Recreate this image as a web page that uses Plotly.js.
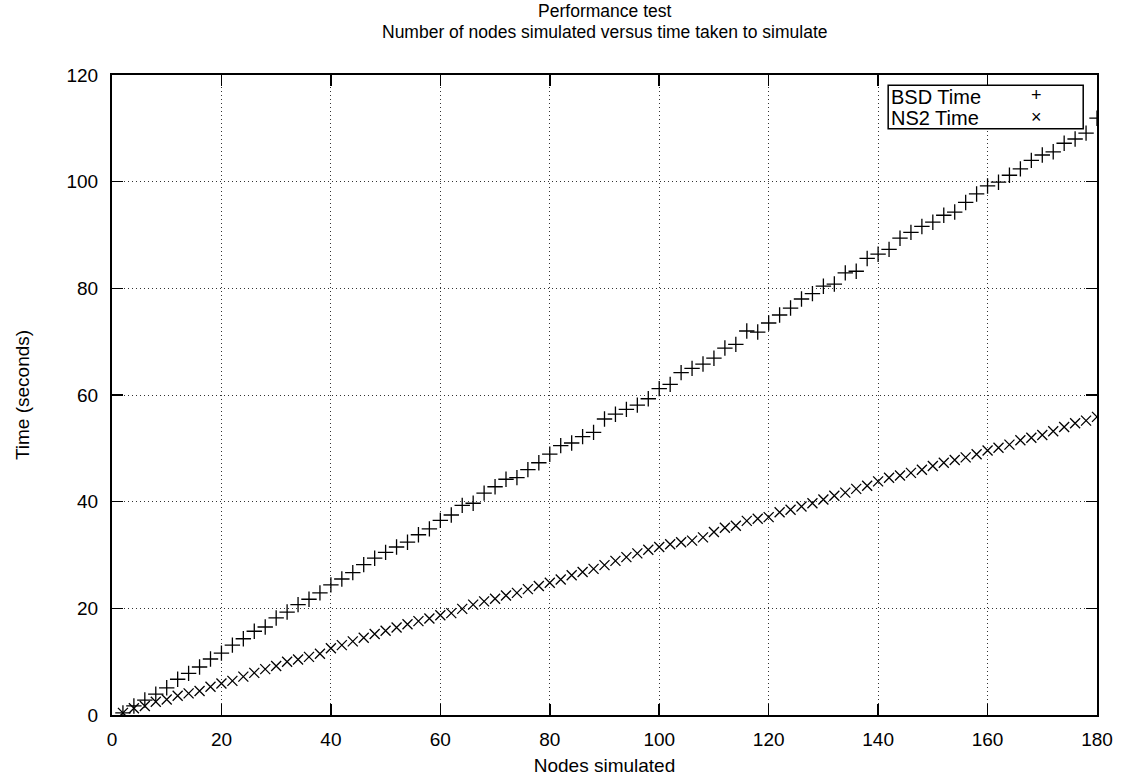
<!DOCTYPE html>
<html>
<head>
<meta charset="utf-8">
<script src="https://cdn.plot.ly/plotly-3.0.1.min.js"></script>
<style>html,body{margin:0;padding:0;background:#fff;}#chart{width:1123px;height:780px;}</style>
</head>
<body>
<div id="chart"></div>
<script>
const nodes = [2,4,6,8,10,12,14,16,18,20,22,24,26,28,30,32,34,36,38,40,42,44,46,48,50,52,54,56,58,60,62,64,66,68,70,72,74,76,78,80,82,84,86,88,90,92,94,96,98,100,102,104,106,108,110,112,114,116,118,120,122,124,126,128,130,132,134,136,138,140,142,144,146,148,150,152,154,156,158,160,162,164,166,168,170,172,174,176,178,180];
const bsdTime = [0.4,1.7,2.8,3.9,5.1,6.7,7.8,9.0,10.5,11.6,13.1,14.3,15.7,16.5,18.2,19.3,20.7,21.7,22.9,24.4,25.5,26.7,28.2,29.4,30.5,31.5,32.4,33.8,34.9,36.5,37.5,39.3,39.7,41.6,42.8,44.2,44.5,46.0,47.3,48.9,50.5,51.0,52.2,53.0,55.5,56.4,57.3,58.1,59.3,61.2,62.0,64.2,65.0,65.8,66.9,68.8,69.5,72.0,71.8,73.5,75.0,76.3,78.0,79.0,80.4,80.8,82.9,83.2,85.6,86.4,87.3,89.4,90.5,91.6,92.4,93.7,94.3,96.1,97.7,99.2,99.9,101.2,102.4,104.0,105.0,105.6,107.2,108.0,109.1,111.9];
const ns2Time = [0.4,1.25,1.7,2.5,2.9,3.6,4.05,4.5,5.3,5.9,6.4,7.2,7.9,8.6,9.2,10.0,10.4,10.9,11.5,12.5,13.1,13.8,14.5,15.2,15.8,16.4,17.0,17.6,18.1,18.7,19.1,19.9,20.7,21.3,21.8,22.4,22.9,23.6,24.2,24.8,25.4,26.2,26.8,27.4,28.1,28.9,29.6,30.3,31.0,31.5,32.0,32.4,32.7,33.3,34.3,35.1,35.5,36.4,36.8,37.1,38.0,38.5,39.1,39.7,40.4,41.1,41.7,42.4,43.0,43.8,44.5,44.9,45.4,46.0,46.7,47.3,47.8,48.3,48.9,49.6,50.1,50.7,51.5,52.0,52.5,53.2,54.0,54.7,55.2,55.9];
const xTicks = [0,20,40,60,80,100,120,140,160,180];
const yTicks = [0,20,40,60,80,100,120];
const seriesNames = ["BSD Time", "NS2 Time"];
const titleLines = ["Performance test", "Number of nodes simulated versus time taken to simulate"];

const font = "Liberation Sans, Arial, sans-serif";

const traces = [
  {x: nodes, y: bsdTime, name: seriesNames[0], mode: "markers", type: "scatter",
   marker: {symbol: "cross-thin", size: 11, color: "#000", line: {color: "#000", width: 1.3}}},
  {x: nodes, y: ns2Time, name: seriesNames[1], mode: "markers", type: "scatter",
   marker: {symbol: "x-thin", size: 10, color: "#000", line: {color: "#000", width: 1.3}}}
];

const axisCommon = {
  showline: true, linecolor: "#000", linewidth: 2, mirror: "ticks",
  ticks: "inside", ticklen: 11, tickwidth: 1.5, tickcolor: "#000",
  showgrid: true, gridcolor: "#333", gridwidth: 1, griddash: "1px,3px",
  zeroline: false, tickfont: {family: font, size: 19, color: "#000"}
};

const layout = {
  width: 1123, height: 780,
  paper_bgcolor: "#fff", plot_bgcolor: "#fff",
  margin: {l: 112, r: 26, t: 75, b: 65},
  showlegend: false,
  title: {text: titleLines[0],
          font: {family: font, size: 17.5, color: "#000"},
          x: 0.5385, xanchor: "center", yref: "container", y: 1 - 10.5/780, yanchor: "middle"},
  xaxis: Object.assign({}, axisCommon, {range: [0, 180], tickvals: xTicks, ticktext: xTicks.map(String),
    ticklabelstandoff: 6,
    title: {text: "Nodes simulated", font: {family: font, size: 19, color: "#000"}, standoff: 10}}),
  yaxis: Object.assign({}, axisCommon, {range: [0, 120], tickvals: yTicks, ticktext: yTicks.map(String),
    ticklabelstandoff: 8,
    title: {text: "Time (seconds)", font: {family: font, size: 19, color: "#000"}, standoff: 32}}),
  shapes: [
    {type: "rect", xref: "paper", yref: "paper", x0: 0.788, x1: 0.986, y0: 0.916, y1: 0.984,
     line: {color: "#000", width: 1.5}, fillcolor: "#fff", layer: "above"}
  ],
  annotations: [
    {xref: "paper", yref: "paper", x: 0.5, y: 1 + (75 - 31.5) / 640, xanchor: "center", yanchor: "middle", showarrow: false,
     text: titleLines[1], font: {family: font, size: 17.5, color: "#000"}},
    {xref: "paper", yref: "paper", x: 0.789, y: 0.966, xanchor: "left", yanchor: "middle", showarrow: false,
     text: seriesNames[0], font: {family: font, size: 20, color: "#000"}},
    {xref: "paper", yref: "paper", x: 0.789, y: 0.933, xanchor: "left", yanchor: "middle", showarrow: false,
     text: seriesNames[1], font: {family: font, size: 20, color: "#000"}},
    {xref: "paper", yref: "paper", x: 0.939, y: 0.968, xanchor: "center", yanchor: "middle", showarrow: false,
     text: "+", font: {family: font, size: 18, color: "#000"}},
    {xref: "paper", yref: "paper", x: 0.939, y: 0.935, xanchor: "center", yanchor: "middle", showarrow: false,
     text: "×", font: {family: font, size: 18, color: "#000"}}
  ]
};

Plotly.newPlot("chart", traces, layout, {staticPlot: true, displayModeBar: false});
</script>
</body>
</html>
